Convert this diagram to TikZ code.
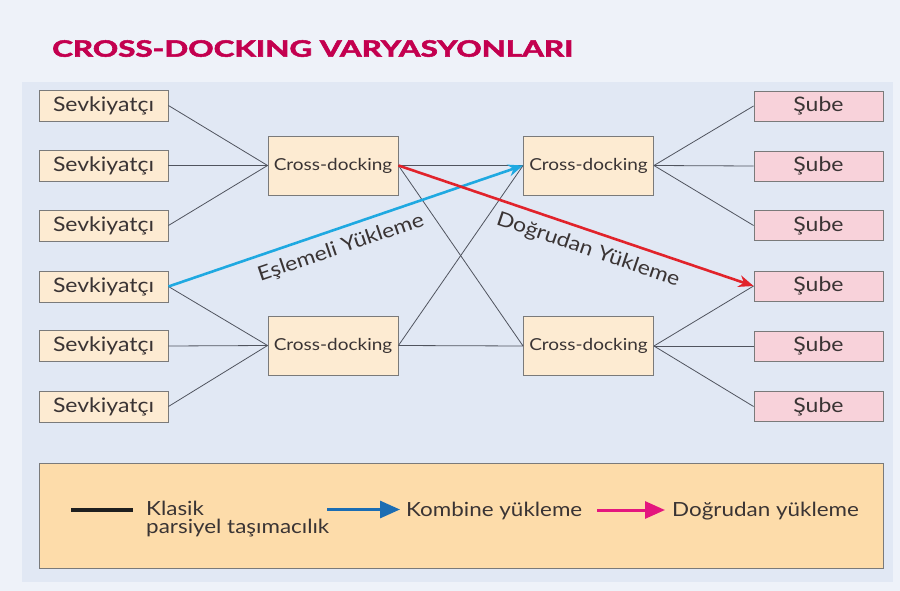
\documentclass[tikz,border=0pt]{standalone}
\usepackage{fontspec}
\setmainfont{Lato}[FakeStretch=1.15]
\newfontfamily\titlefont{Lato}[BoldFeatures={FakeBold=2.2}]
\usetikzlibrary{arrows.meta}
\definecolor{outerbg}{HTML}{EEF2F9}
\definecolor{panelbg}{HTML}{E1E8F4}
\definecolor{boxfill}{HTML}{FDEBD2}
\definecolor{pinkfill}{HTML}{F8D2DA}
\definecolor{legfill}{HTML}{FDDCAA}
\definecolor{edgec}{HTML}{7A7A7A}
\definecolor{connc}{HTML}{50545E}
\definecolor{titlecol}{HTML}{C3004F}
\definecolor{txt}{HTML}{3A3434}
\definecolor{cyanarrow}{HTML}{1FA9E1}
\definecolor{redarrow}{HTML}{E1232B}
\definecolor{legblue}{HTML}{1B6DB3}
\definecolor{legpink}{HTML}{E4167E}
\begin{document}
\begin{tikzpicture}[x=1pt,y=-1pt,
  every node/.style={text=txt},
  sbox/.style={draw=edgec, line width=0.9pt, fill=boxfill, minimum width=129pt, minimum height=31pt, inner sep=0pt, font=\fontsize{20}{22}\selectfont},
  cdbox/.style={draw=edgec, line width=0.9pt, fill=boxfill, minimum width=130pt, minimum height=59pt, inner sep=0pt, font=\fontsize{16.5}{20}\selectfont},
  subox/.style={draw=edgec, line width=0.9pt, fill=pinkfill, minimum width=129pt, minimum height=30pt, inner sep=0pt, font=\fontsize{20}{22}\selectfont},
  link/.style={draw=connc, line width=0.8pt},
  bluearrow/.style={draw=cyanarrow, line width=2.6pt, -{Stealth[length=15pt,width=12pt]}},
  redarr/.style={draw=redarrow, line width=2.6pt, -{Stealth[length=15pt,width=12pt]}},
  lbl/.style={inner sep=0pt, font=\fontsize{20}{22}\selectfont},
  legtext/.style={inner sep=0pt, font=\fontsize{19.5}{18}\selectfont},
  legarrow/.style={line width=3pt, -{Triangle[length=20pt,width=17pt]}},
]
\useasboundingbox (0,0) rectangle (900,591);
\fill[outerbg] (0,0) rectangle (900,591);
\fill[panelbg] (22,82) rectangle (893,582);

\node[anchor=base west, inner sep=0pt, text=titlecol] (title) at (52,56.7)
  {\resizebox{521pt}{16.5pt}{\titlefont\bfseries CROSS-DOCKING VARYASYONLARI}};

% shippers
\node[sbox] (s1) at (103.5,105.5) {Sevkiyatçı};
\node[sbox] (s2) at (103.5,165.5) {Sevkiyatçı};
\node[sbox] (s3) at (103.5,225.5) {Sevkiyatçı};
\node[sbox] (s4) at (103.5,286.5) {Sevkiyatçı};
\node[sbox] (s5) at (103.5,346) {Sevkiyatçı};
\node[sbox] (s6) at (103.5,406.5) {Sevkiyatçı};

% cross-docks
\node[cdbox] (c1) at (333,165.5) {Cross-docking};
\node[cdbox] (c3) at (333,345.5) {Cross-docking};
\node[cdbox] (c2) at (588.5,165.5) {Cross-docking};
\node[cdbox] (c4) at (588.5,346) {Cross-docking};

% branches
\node[subox] (b1) at (818.5,106) {Şube};
\node[subox] (b2) at (818.5,166) {Şube};
\node[subox] (b3) at (818.5,225.5) {Şube};
\node[subox] (b4) at (818.5,286) {Şube};
\node[subox] (b5) at (818.5,346) {Şube};
\node[subox] (b6) at (818.5,406.5) {Şube};

% classic links
\foreach \s in {s1,s2,s3} \draw[link] (\s.east) -- (c1.west);
\foreach \s in {s4,s5,s6} \draw[link] (\s.east) -- (c3.west);
\draw[link] (c1.east) -- (c2.west);
\draw[link] (c1.east) -- (c4.west);
\draw[link] (c3.east) -- (c2.west);
\draw[link] (c3.east) -- (c4.west);
\foreach \b in {b1,b2,b3} \draw[link] (c2.east) -- (\b.west);
\foreach \b in {b4,b5,b6} \draw[link] (c4.east) -- (\b.west);

% special flows
\draw[bluearrow] (s4.east) -- (c2.west);
\draw[redarr] (c1.east) -- (b4.west);
\node[lbl, rotate=18.8] (el) at (341,248) {Eşlemeli Yükleme};
\node[lbl, rotate=-18.8] (dl) at (588,250) {Doğrudan Yükleme};

% legend
\node[draw=edgec, line width=0.9pt, fill=legfill, minimum width=844pt, minimum height=105pt, inner sep=0pt, anchor=north west] (leg) at (39,463) {};
\coordinate (k1) at (71,510);
\coordinate (k2) at (133,510);
\draw[line width=3.6pt, black!88] (k1) -- (k2);
\node[legtext, anchor=base west] (kt1) at (146,515) {Klasik};
\node[legtext, anchor=base west] (kt2) at (146,533) {parsiyel taşımacılık};
\coordinate (bl1) at (327,509.5);
\coordinate (bl2) at (400,509.5);
\draw[legarrow, legblue] (bl1) -- (bl2);
\node[legtext, anchor=base west] (kb) at (406,516) {Kombine yükleme};
\coordinate (pk1) at (597,510);
\coordinate (pk2) at (665,510);
\draw[legarrow, legpink] (pk1) -- (pk2);
\node[legtext, anchor=base west] (dy) at (672,516) {Doğrudan yükleme};
\end{tikzpicture}
\end{document}
